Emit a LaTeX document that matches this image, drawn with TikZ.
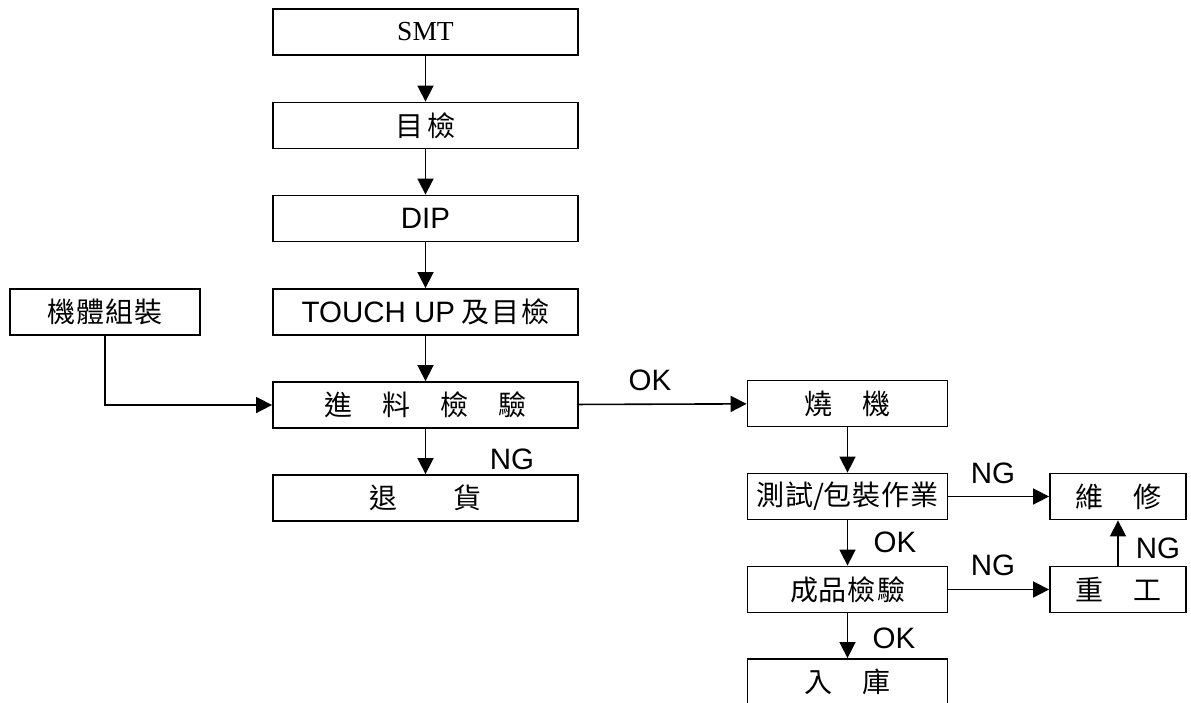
\documentclass[tikz,border=0pt]{standalone}
\usepackage{fontspec}
\setmainfont{Liberation Serif}
\newfontfamily\arial{Liberation Sans}
\newfontfamily\cjk{Noto Sans CJK TC}
\usetikzlibrary{arrows.meta}
\newcommand{\latinfont}{\arial\fontsize{29.5}{29.5}\selectfont}
\begin{document}
\begin{tikzpicture}[x=1pt,y=-1pt,
  box/.style={draw,line width=1.8pt,minimum height=46pt,inner sep=0pt,font=\cjk\fontsize{28}{28}\selectfont},
  wide/.style={box,minimum width=305pt},
  side/.style={box,minimum width=200pt},
  small/.style={box,minimum width=136pt},
  conn/.style={line width=1.6pt,-{Triangle[length=16pt,width=16pt]}},
  lab/.style={font=\latinfont,inner sep=0pt}]
\clip (0,0) rectangle (1191,702);
\node[wide,font=\fontsize{27.5}{27.5}\selectfont] (smt) at (425.5,32) {SMT};
\node[wide] (mj) at (425.5,125.5) {目\hspace{5pt}檢};
\node[wide,font=\latinfont] (dip) at (425.5,218.5) {DIP};
\node[wide] (tu) at (425.5,312) {{\latinfont TOUCH UP} 及\hspace{2pt}目\hspace{2pt}檢};
\node[box,minimum width=190pt] (jt) at (105,312) {機\hspace{1pt}體\hspace{1pt}組\hspace{1pt}裝};
\node[wide] (jl) at (425.5,405) {進\hspace{30pt}料\hspace{30pt}檢\hspace{30pt}驗};
\node[wide] (th) at (425.5,498) {退\hspace{57pt}貨};
\node[side] (sj) at (847.5,403.5) {燒\hspace{30pt}機};
\node[side] (cs) at (847.5,496.5) {測\hspace{1pt}試/包\hspace{1pt}裝\hspace{1pt}作\hspace{1pt}業};
\node[small] (wx) at (1118,496.5) {維\hspace{30pt}修};
\node[side] (cp) at (847.5,589.5) {成\hspace{1pt}品\hspace{1pt}檢\hspace{1pt}驗};
\node[small] (cg) at (1118,589.5) {重\hspace{30pt}工};
\node[side] (rk) at (847.5,682) {入\hspace{30pt}庫};
\draw[conn] (smt) -- (mj);
\draw[conn] (mj) -- (dip);
\draw[conn] (dip) -- (tu);
\draw[conn] (tu) -- (jl);
\draw[conn] (jt.south) |- (jl.west);
\draw[conn] (jl) -- (th);
\draw[conn] (jl) -- (sj);
\draw[conn] (sj) -- (cs);
\draw[conn] (cs) -- (cp);
\draw[conn] (cp) -- (rk);
\draw[conn] (cs) -- (wx);
\draw[conn] (cp) -- (cg);
\draw[conn] (cg) -- (wx);
\node[lab] (l1) at (650,380) {OK};
\node[lab] (l2) at (512,459) {NG};
\node[lab] (l3) at (993,473) {NG};
\node[lab] (l4) at (895,542) {OK};
\node[lab] (l5) at (993,565) {NG};
\node[lab] (l6) at (1158,548) {NG};
\node[lab] (l7) at (894,638) {OK};
\end{tikzpicture}
\end{document}
